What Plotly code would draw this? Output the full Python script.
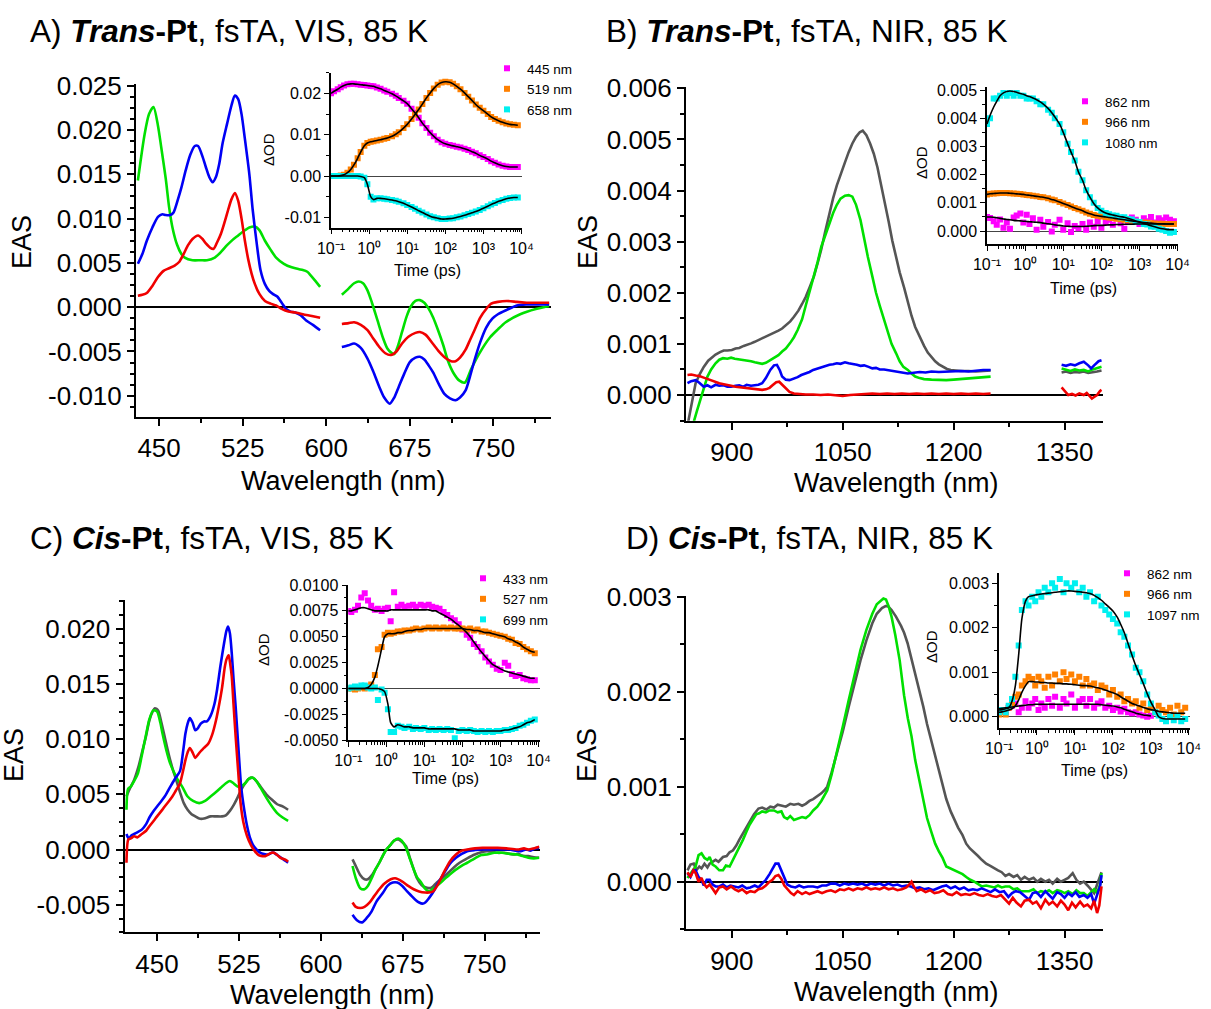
import plotly.graph_objects as go

W, H = 1211, 1009
FONT = "Liberation Sans, Arial, sans-serif"
GREEN, BLUE, RED, GRAY = "#00e000", "#0000f5", "#f00000", "#555555"
MAG, ORA, CYA = "#ff00ff", "#ff8000", "#00f0f0"

# ---------------- Panel A: Trans-Pt VIS EAS ----------------
A_green_wl = [431, 437, 441, 445, 449, 452, 456, 459, 462, 466, 470, 473, 480, 487, 493, 500, 506, 511, 516, 521, 526, 531, 536, 540, 545, 550, 555, 562, 569, 575, 579, 583, 586, 590, 594.5, None,
              614, 620, 625, 629, 633, 637, 641, 646, 651, 655, 658, 661, 664, 668, 672, 676, 680, 684, 688, 692, 696, 700, 705, 709, 714, 719.5, 724.5, 730, 737, 747, 754, 761, 774, 788, 795, 800]
A_green = [0.0143, 0.0195, 0.0218, 0.0226, 0.0205, 0.018, 0.0145, 0.0113, 0.0090, 0.0071, 0.0060, 0.0056, 0.0053, 0.0053, 0.0053, 0.0056, 0.0063, 0.0070, 0.0076, 0.0081, 0.0086, 0.0090, 0.0091, 0.0087, 0.0075, 0.0065, 0.0056, 0.0049, 0.0045, 0.0043, 0.0042, 0.0040, 0.0036, 0.0030, 0.0023, None,
           0.0014, 0.0021, 0.0027, 0.0029, 0.0027, 0.0019, 0.0005, -0.0015, -0.0035, -0.0047, -0.0051, -0.0053, -0.0045, -0.0028, -0.0011, 0.0001, 0.0007, 0.0008, 0.0005, -0.0002, -0.0012, -0.0025, -0.0043, -0.0060, -0.0074, -0.0083, -0.0085, -0.0070, -0.0053, -0.0034, -0.0025, -0.0017, -0.0008, -0.0002, 0.0000, 0.0001]
A_blue_wl = [431, 435, 439, 444, 449, 453, 456, 460, 463, 467, 470, 474, 478, 482, 485, 489, 492, 495, 498, 501, 504, 507, 511, 515, 518, 521, 524, 527, 531, 534, 538, 541, 545, 549, 552, 556, 560, 564, 568, 572, 577, 582, 588, 594.5, None,
             614, 620, 625, 631, 637, 642, 647.6, 652, 657, 661, 665, 670, 675, 680, 684, 688, 692, 696, 701, 706, 711, 716, 720, 725, 729, 733, 738, 743.5, 749, 754, 762, 771, 780, 790, 800]
A_blue = [0.0049, 0.0060, 0.0075, 0.0090, 0.0102, 0.0105, 0.0104, 0.0104, 0.0107, 0.0122, 0.0135, 0.0155, 0.0172, 0.0182, 0.0182, 0.0170, 0.0158, 0.0147, 0.0141, 0.0147, 0.0162, 0.0185, 0.0207, 0.0228, 0.0239, 0.0235, 0.0218, 0.0190, 0.0150, 0.0110, 0.0068, 0.0042, 0.0026, 0.0018, 0.0015, 0.0012, 0.0005, -0.0002, -0.0005, -0.0006, -0.0009, -0.0015, -0.0020, -0.0026, None,
          -0.0045, -0.0043, -0.0041, -0.0046, -0.0058, -0.0072, -0.0090, -0.0102, -0.0109, -0.0102, -0.0090, -0.0075, -0.0062, -0.0057, -0.0056, -0.0059, -0.0066, -0.0074, -0.0087, -0.0098, -0.0103, -0.0105, -0.0102, -0.0094, -0.0078, -0.0060, -0.0040, -0.0023, -0.0013, -0.0008, -0.0003, 0.0002, 0.0003, 0.0003, 0.0003]
A_red_wl = [431, 435, 439, 444, 449, 454, 459, 464, 468, 472, 476, 480, 485, 489, 492, 496, 499, 502, 505.5, 509, 512, 515, 518, 521, 524, 527, 530, 533, 536, 540, 545, 550, 555, 560, 566, 572, 579, 587, 594.5, None,
            614, 620, 625, 631, 637, 642, 647.6, 653, 658, 663, 668, 674, 680, 684, 689, 695.5, 701, 707.5, 712, 716, 720, 725, 729, 733, 738, 743.5, 748, 754, 762, 771, 780, 790, 800]
A_red = [0.0013, 0.0014, 0.0016, 0.0024, 0.0034, 0.0041, 0.0044, 0.0047, 0.0051, 0.0060, 0.0070, 0.0077, 0.0081, 0.0077, 0.0072, 0.0067, 0.0066, 0.0073, 0.0083, 0.0097, 0.0110, 0.0122, 0.0129, 0.0120, 0.0100, 0.0075, 0.0054, 0.0038, 0.0026, 0.0015, 0.0007, 0.0004, 0.0002, -0.0002, -0.0005, -0.0006, -0.0008, -0.0010, -0.0012, None,
         -0.0019, -0.0018, -0.0017, -0.0020, -0.0026, -0.0035, -0.0045, -0.0052, -0.0054, -0.0050, -0.0041, -0.0033, -0.0029, -0.0028, -0.0031, -0.0041, -0.0050, -0.0058, -0.0061, -0.0061, -0.0057, -0.0048, -0.0037, -0.0026, -0.0012, -0.0002, 0.0004, 0.0006, 0.0007, 0.0006, 0.0005, 0.0005, 0.0005]

# ---------------- Panel B: Trans-Pt NIR EAS ----------------
B_gray_wl = [840, 845, 851, 857, 862, 868, 873, 878, 884, 889, 894, 900, 905, 910, 916, 921, 926, 931, 937, 942, 947, 952, 958, 963, 968, 974, 979, 984, 990, 995, 1000, 1005, 1011, 1016, 1021, 1026, 1032, 1037, 1042, 1047, 1053, 1058, 1063, 1068, 1073, 1077, 1082, 1087, 1092, 1097, 1102, 1106, 1112, 1117, 1122, 1127, 1133, 1138, 1143, 1148, 1154, 1160, 1165, 1170, 1175, 1180, 1186, 1191, 1196, 1201, 1210, 1220, 1230, 1240, 1250, None,
             1346, 1352, 1358, 1364, 1370, 1376, 1382, 1388, 1394, 1400]
B_gray = [-0.0006, -0.0002, 0.00023, 0.00042, 0.00055, 0.00067, 0.00074, 0.00079, 0.00084, 0.00087, 0.00087, 0.00088, 0.00091, 0.00092, 0.00096, 0.00098, 0.00101, 0.00104, 0.00108, 0.00111, 0.00114, 0.00118, 0.00122, 0.00126, 0.0013, 0.00137, 0.00144, 0.00153, 0.00165, 0.00178, 0.00192, 0.0021, 0.00232, 0.00258, 0.00285, 0.00318, 0.00356, 0.00385, 0.0041, 0.00432, 0.00455, 0.00475, 0.00492, 0.00505, 0.00514, 0.00517, 0.00508, 0.00492, 0.00472, 0.00445, 0.00412, 0.0038, 0.0034, 0.00302, 0.0027, 0.0024, 0.0021, 0.0018, 0.00155, 0.00133, 0.00113, 0.00096, 0.00083, 0.00074, 0.00066, 0.0006, 0.00055, 0.00051, 0.00049, 0.00048, 0.00047, 0.00047, 0.00046, 0.00047, 0.00048, None,
          0.00044, 0.00046, 0.00043, 0.00045, 0.00044, 0.00046, 0.00043, 0.00044, 0.00046, 0.00048]
B_green_wl = [845, 849, 853, 857, 862, 867, 872, 878, 883, 888, 894, 899, 904, 910, 915, 920, 926, 931, 936, 941, 946, 952, 957, 963, 968, 973, 979, 984, 989, 995, 1000, 1005, 1011, 1016, 1021, 1026, 1032, 1037, 1042, 1047, 1053, 1058, 1063, 1068, 1074, 1079, 1084, 1090, 1095, 1100, 1106, 1111, 1116, 1122, 1127, 1132, 1138, 1143, 1148, 1154, 1160, 1170, 1180, 1190, 1200, 1210, 1220, 1230, 1240, 1250, None,
              1346, 1352, 1358, 1364, 1370, 1376, 1382, 1388, 1394, 1400]
B_green = [-0.0008, -0.0005, -0.0003, -0.0001, 0.00015, 0.00036, 0.0005, 0.00062, 0.00069, 0.00072, 0.00071, 0.00073, 0.00071, 0.0007, 0.00069, 0.00068, 0.00066, 0.00064, 0.00062, 0.00061, 0.00063, 0.00068, 0.00072, 0.00078, 0.00085, 0.00091, 0.00102, 0.00113, 0.00127, 0.00148, 0.00175, 0.002, 0.0023, 0.0026, 0.0029, 0.00312, 0.00338, 0.00356, 0.00372, 0.00384, 0.0039, 0.00391, 0.00388, 0.00372, 0.00342, 0.00305, 0.0027, 0.00232, 0.002, 0.00175, 0.00147, 0.00122, 0.001, 0.00082, 0.00066, 0.00055, 0.00049, 0.00042, 0.00036, 0.00033, 0.00031, 0.0003, 0.00029, 0.00029, 0.0003, 0.00031, 0.00032, 0.00033, 0.00035, 0.00036, None,
           0.00052, 0.0005, 0.00047, 0.0005, 0.00048, 0.00049, 0.00046, 0.0005, 0.00052, 0.00055]
B_blue_wl = [840, 845, 851, 856, 862, 867, 872, 878, 883, 889, 894, 899, 905, 910, 915, 920, 926, 931, 936, 941, 946, 952, 957, 961, 965, 968, 973, 978, 984, 989, 994, 1000, 1005, 1010, 1016, 1021, 1026, 1032, 1037, 1042, 1047, 1053, 1058, 1063, 1069, 1074, 1079, 1085, 1090, 1095, 1100, 1106, 1111, 1117, 1122, 1130, 1138, 1146, 1154, 1162, 1170, 1180, 1190, 1200, 1210, 1220, 1230, 1240, 1250, None,
             1346, 1352, 1358, 1364, 1370, 1376, 1382, 1386, 1390, 1396, 1400]
B_blue = [0.00023, 0.00027, 0.00029, 0.00024, 0.00016, 0.00019, 0.00015, 0.0002, 0.00018, 0.00019, 0.00016, 0.00016, 0.00018, 0.00019, 0.00016, 0.0002, 0.00018, 0.00019, 0.0002, 0.00023, 0.00033, 0.00049, 0.00058, 0.00059, 0.00048, 0.00036, 0.0003, 0.00029, 0.00032, 0.00035, 0.00039, 0.00042, 0.00045, 0.00049, 0.00052, 0.00054, 0.00056, 0.00059, 0.0006, 0.00062, 0.00061, 0.00064, 0.00062, 0.00061, 0.00059, 0.00057, 0.00058, 0.00055, 0.00052, 0.00053, 0.0005, 0.0005, 0.00049, 0.00047, 0.00046, 0.00044, 0.00042, 0.00044, 0.00045, 0.00044, 0.00046, 0.00045, 0.00046, 0.00046, 0.00047, 0.00046, 0.00048, 0.00049, 0.00049, None,
          0.00059, 0.00057, 0.0006, 0.00058, 0.00062, 0.00065, 0.00058, 0.00052, 0.00058, 0.00066, 0.00068]
B_red_wl = [840, 845, 851, 856, 862, 867, 872, 878, 883, 889, 894, 899, 905, 910, 915, 920, 926, 931, 936, 941, 946, 951, 955, 960, 964, 968, 973, 978, 984, 990, 1000, 1010, 1020, 1030, 1040, 1050, 1060, 1070, 1080, 1090, 1100, 1110, 1120, 1130, 1140, 1150, 1160, 1170, 1180, 1190, 1200, 1210, 1220, 1230, 1240, 1250, None,
            1346, 1350, 1355, 1360, 1365, 1370, 1376, 1380, 1384, 1387, 1390, 1394, 1398, 1400]
B_red = [0.00039, 0.0004, 0.00038, 0.00037, 0.00034, 0.00031, 0.00029, 0.00025, 0.00023, 0.00021, 0.0002, 0.00018, 0.00016, 0.00015, 0.00014, 0.00013, 0.00012, 0.00011, 0.0001, 0.0001, 0.00011, 0.00014, 0.00019, 0.00025, 0.00026, 0.0002, 0.00012, 0.00006, 0.00003, 0.00002, 0.00001, 0.00001, 0.0, 0.00001, -0.00001, -0.00002, 0.0, 0.00001, 0.00002, 0.00003, 0.00002, 0.00003, 0.00002, 0.00003, 0.00002, 0.00003, 0.00002, 0.00003, 0.00002, 0.00003, 0.00002, 0.00003, 0.00002, 0.00003, 0.00002, 0.00003, None,
         0.00015, 0.00008, 0.0, 0.00002, -0.00001, 0.00003, 0.0, 0.00004, -0.00002, -0.00007, -0.00004, 0.0, 0.00008, 0.0001]

# ---------------- Panel C: Cis-Pt VIS EAS ----------------
C_gray_wl = [422, 425, 429, 433, 436, 440, 443, 446, 448, 451, 453.5, 457, 460.5, 464, 467.5, 471, 474.5, 478, 481.6, 485, 488.6, 493, 499, 504, 509.6, 513, 516.7, 520, 523.7, 527, 530.7, 534, 537.7, 541, 544.7, 550, 555.3, 560, 565, 570, None,
             629, 632, 636, 640, 643, 647, 650, 653.5, 657, 660, 664, 667, 671, 674, 678, 681, 685, 688, 692, 695, 699, 702, 706, 711, 716.7, 722, 727, 734, 741, 747, 752, 757, 762, 768, 776, 781, 784, 787, 790, 795, 800]
C_gray = [0.0048, 0.0055, 0.0063, 0.0075, 0.0087, 0.0103, 0.0117, 0.0125, 0.0128, 0.0126, 0.0117, 0.0102, 0.0087, 0.0074, 0.0063, 0.0052, 0.0042, 0.0036, 0.0032, 0.0030, 0.0028, 0.0028, 0.0030, 0.0030, 0.0030, 0.0031, 0.0035, 0.0040, 0.0047, 0.0054, 0.0060, 0.0064, 0.0065, 0.0062, 0.0057, 0.0050, 0.0045, 0.0041, 0.0039, 0.0036, None,
          -0.0009, -0.0015, -0.0023, -0.0027, -0.0027, -0.0023, -0.0018, -0.0012, -0.0005, 0.0000, 0.00045, 0.0008, 0.0009, 0.0007, 0.0003, -0.0006, -0.0018, -0.0026, -0.0032, -0.0034, -0.0035, -0.0034, -0.0030, -0.0026, -0.0021, -0.0016, -0.0012, -0.0008, -0.00045, -0.00025, -0.00015, -0.0002, -0.0003, -0.0003, -0.00045, -0.0004, -0.00055, -0.0006, -0.0006, -0.0007, -0.00075]
C_green_wl = [422, 423.5, 426, 429, 432.5, 436, 439.5, 443, 446.5, 450, 453, 455, 458.5, 462, 465.5, 469, 473, 478, 483, 488.6, 494, 499, 504, 509.6, 513, 516.7, 520, 523.7, 527, 530.7, 534, 537.7, 541, 544.7, 550, 555.3, 560, 565, 570, None,
              629, 632, 636, 640, 643, 647, 650, 653.5, 657, 660, 664, 667, 671, 674, 678, 681, 685, 688, 692, 695, 699, 702, 706, 713, 720, 727, 734, 741, 747, 752, 759, 766, 773, 780, 785, 790, 795, 800]
C_green = [0.0036, 0.0055, 0.0057, 0.0062, 0.0069, 0.0085, 0.0102, 0.0118, 0.0126, 0.0125, 0.0115, 0.0105, 0.0090, 0.0078, 0.0070, 0.0063, 0.0057, 0.0048, 0.0044, 0.0042, 0.0044, 0.0048, 0.0052, 0.0057, 0.0060, 0.0062, 0.0060, 0.0057, 0.0057, 0.0060, 0.0064, 0.0065, 0.0062, 0.0056, 0.0047, 0.0039, 0.0033, 0.0029, 0.0026, None,
           -0.0015, -0.0026, -0.0035, -0.0036, -0.0033, -0.0025, -0.0018, -0.0012, -0.0005, 0.0000, 0.00045, 0.0008, 0.0010, 0.0008, 0.00015, -0.0007, -0.0018, -0.0025, -0.0030, -0.0035, -0.0038, -0.0036, -0.0033, -0.0027, -0.0021, -0.0016, -0.0012, -0.0008, -0.0005, -0.00045, -0.0003, -0.0003, -0.0004, -0.00045, -0.0006, -0.00075, -0.0008, -0.00075]
C_blue_wl = [422, 424, 427, 431, 436, 440, 443, 447, 450, 454, 457, 461, 464, 467, 471, 474, 476, 478, 480, 482.5, 485, 487.5, 490, 493, 495.6, 499, 502.6, 505, 508, 511.4, 513.5, 515, 516.7, 518.4, 520, 522, 524.5, 527, 530, 532.5, 535, 537.7, 541, 544.7, 548, 551.8, 555, 557, 560, 563, 567, 570, None,
             629, 633, 637.7, 642, 646.5, 651, 657, 661, 665.8, 670, 674.6, 679, 683, 687, 690, 693, 695.6, 699, 702.6, 707, 713, 718, 723.7, 729, 734, 741, 748, 755, 762, 768, 772.8, 778, 783, 788, 792, 796, 800]
C_blue = [0.0014, 0.0010, 0.0013, 0.0015, 0.0018, 0.0023, 0.0029, 0.0035, 0.0039, 0.0044, 0.0048, 0.0055, 0.0060, 0.0065, 0.0071, 0.0090, 0.0105, 0.0114, 0.0119, 0.0115, 0.0108, 0.0110, 0.0114, 0.0116, 0.0116, 0.0121, 0.0132, 0.0145, 0.0166, 0.0187, 0.0198, 0.0202, 0.0196, 0.0178, 0.0155, 0.0129, 0.0092, 0.0057, 0.0035, 0.0021, 0.0011, 0.00045, 0.0000, -0.0003, -0.0004, -0.00045, -0.0003, -0.0003, -0.0005, -0.0007, -0.0010, -0.0012, None,
          -0.0059, -0.0064, -0.0066, -0.0062, -0.0056, -0.0047, -0.0039, -0.0033, -0.0030, -0.0030, -0.0033, -0.0038, -0.0042, -0.0046, -0.0048, -0.0049, -0.0048, -0.0044, -0.0039, -0.0031, -0.0021, -0.0013, -0.00075, -0.0004, -0.00015, -0.00005, 0.0, 0.0, 0.0, 0.0, 0.0, -0.0001, -0.00015, 0.0, -0.0001, 0.0001, 0.00015]
C_red_wl = [422, 423.7, 426, 429, 432, 436, 440, 443, 447, 450, 454, 457, 461, 464, 467, 471, 474, 476, 478, 480, 482.5, 485, 487.5, 490, 493, 497, 500.5, 504, 507, 509.6, 512, 513.5, 515.6, 517, 518.4, 520, 522, 524.5, 526.5, 529, 532.5, 536, 539.5, 543, 546.5, 549, 551.8, 555, 557, 560, 563, 567, 570, None,
            629, 632, 636, 640, 644.7, 649, 653.5, 658, 664, 668, 674.6, 680, 685, 690, 695.6, 699, 702.6, 707, 713, 718, 723.7, 729, 734, 741, 748, 755, 762, 770, 780, 786, 790, 795, 800]
C_red = [-0.0012, 0.0009, 0.0010, 0.0012, 0.0011, 0.0014, 0.0017, 0.0021, 0.0026, 0.0030, 0.0035, 0.0039, 0.0044, 0.0048, 0.0053, 0.0060, 0.0072, 0.0081, 0.0088, 0.0092, 0.0088, 0.0083, 0.0086, 0.0089, 0.0092, 0.0096, 0.0104, 0.0117, 0.0132, 0.0147, 0.0165, 0.0172, 0.0176, 0.0168, 0.0157, 0.0132, 0.0102, 0.0068, 0.0042, 0.0025, 0.0012, 0.0004, -0.00015, -0.0005, -0.0006, -0.0006, -0.00045, -0.0003, -0.0003, -0.0005, -0.00075, -0.0009, -0.0011, None,
         -0.0048, -0.0052, -0.0053, -0.0052, -0.0048, -0.0042, -0.0036, -0.0031, -0.0027, -0.0026, -0.0029, -0.0033, -0.0036, -0.0038, -0.0039, -0.0039, -0.0038, -0.0032, -0.0020, -0.0011, -0.00045, -0.0001, 0.0, 0.0001, 0.00015, 0.00015, 0.00015, 0.0001, 0.0, 0.0001, 0.0, 0.0001, 0.00024]

# ---------------- Panel D: Cis-Pt NIR EAS ----------------
D_gray_wl = [840, 844, 848.5, 852, 856, 859, 863, 867, 870, 874, 878, 882, 888, 893, 897, 901.6, 906, 910, 915, 920, 925.5, 930, 936, 941, 946.7, 952, 957, 962, 968, 973, 979, 984, 990, 995, 1000, 1005, 1010, 1015.6, 1021, 1026, 1029, 1035, 1042, 1050, 1058, 1066, 1074, 1082, 1090, 1096, 1103, 1108, 1111, 1116, 1122, 1129, 1133, 1137.7, 1143, 1148, 1153.6, 1159, 1164, 1169.5, 1175, 1180, 1185, 1190, 1196, 1201, 1206, 1212, 1217, 1222, 1228, 1233, 1238, 1244, 1249, 1255, 1260, 1265, 1270, 1275, 1281, 1286, 1291, 1296, 1302, 1308, 1313, 1318, 1324, 1329, 1334, 1340, 1345, 1350, 1355, 1361, 1366, 1371, 1376, 1381, 1386, 1390, 1394, 1398, 1400]
D_gray = [0.00012, 0.00018, 0.00019, 0.00012, 0.00016, 0.00014, 0.00019, 0.00015, 0.00019, 0.00021, 0.00023, 0.00021, 0.00026, 0.00027, 0.00031, 0.00033, 0.00038, 0.00044, 0.00051, 0.00057, 0.00065, 0.00071, 0.00077, 0.00078, 0.00076, 0.00079, 0.00078, 0.00081, 0.0008, 0.00079, 0.00082, 0.00081, 0.00082, 0.0008, 0.00082, 0.00085, 0.00087, 0.0009, 0.00093, 0.00097, 0.001, 0.00115, 0.00135, 0.00158, 0.00184, 0.00209, 0.00233, 0.00254, 0.00272, 0.00282, 0.00288, 0.0029, 0.0029, 0.00286, 0.00279, 0.00269, 0.00262, 0.00251, 0.00235, 0.00218, 0.00202, 0.00184, 0.00166, 0.00149, 0.00131, 0.00115, 0.001, 0.00087, 0.00074, 0.00065, 0.00057, 0.00049, 0.0004, 0.00035, 0.00031, 0.00027, 0.00023, 0.00019, 0.00017, 0.00014, 0.00012, 0.0001, 0.00006, 0.00008, 0.00005, 0.00007, 0.00002, 0.00005, 0.00002, 0.00004, 0.0, 0.00003, 0.0, 0.00002, -0.00002, 0.00003, 0.0, 0.00002, 0.00004, 0.00009, 0.00002, -0.00002, 0.0, -0.00004, -0.00008, -0.00012, -0.00003, 0.00005, 0.0001]
D_green_wl = [840, 844, 848, 851, 855, 859, 863, 867, 870, 874, 878, 883, 888, 892, 897, 901.6, 906, 910, 915, 920, 924, 928, 933, 937, 941, 946, 951, 957, 962, 967, 970.6, 975, 979, 984, 990, 995, 1000, 1005, 1010, 1015.6, 1021, 1026, 1029, 1035, 1042, 1050, 1058, 1066, 1074, 1082, 1090, 1096, 1100, 1105, 1108.5, 1112, 1116, 1121, 1127, 1133, 1138, 1143, 1148, 1153, 1159, 1164, 1170, 1175, 1180, 1185, 1190, 1196, 1201, 1206, 1212, 1217, 1222.5, 1228, 1233, 1238, 1244, 1250, 1255, 1260, 1265, 1270, 1275.5, 1281, 1286, 1291, 1296, 1302, 1308, 1313, 1318, 1324, 1329, 1334, 1340, 1345, 1350, 1355, 1361, 1366, 1371, 1376, 1381, 1386, 1390, 1394, 1398, 1400]
D_green = [0.00004, 0.00008, 0.00012, 0.00016, 0.00028, 0.0003, 0.00025, 0.00023, 0.00026, 0.00018, 0.00016, 0.00012, 0.00012, 0.00017, 0.00016, 0.00023, 0.0003, 0.00036, 0.00044, 0.00053, 0.0006, 0.00065, 0.00071, 0.00072, 0.00074, 0.00073, 0.00075, 0.00075, 0.00073, 0.00074, 0.00068, 0.00066, 0.00069, 0.00065, 0.00067, 0.00068, 0.00067, 0.0007, 0.00075, 0.00079, 0.00085, 0.00092, 0.00096, 0.00113, 0.00135, 0.00163, 0.00191, 0.00218, 0.00244, 0.00265, 0.00282, 0.00292, 0.00295, 0.00298, 0.00297, 0.0029, 0.00279, 0.0026, 0.00233, 0.00196, 0.00172, 0.00153, 0.00128, 0.00108, 0.00086, 0.00067, 0.00052, 0.0004, 0.00032, 0.00025, 0.00016, 0.00014, 0.00012, 0.0001, 0.00008, 0.00005, 0.00002, 0.0, -0.00003, -0.00005, -0.00004, -0.00005, -0.00006, -0.00004, -0.00006, -0.00005, -0.00005, -0.00008, -0.00007, -0.0001, -0.0001, -0.0001, -0.00008, -0.00012, -0.0001, -0.00011, -0.00009, -0.00012, -0.00009, -0.0001, -0.00012, -0.0001, -0.00013, -0.00009, -0.00012, -0.00012, -0.00015, -0.00011, -0.00008, -0.00012, -0.00003, 0.00009]
D_blue_wl = [840, 844, 848, 851, 855, 859, 862, 866, 870, 874, 878, 883, 888, 893, 898, 904, 909, 914, 920, 925, 931, 936, 941, 946, 951, 955, 959, 963, 967, 970.6, 975, 980, 986, 991, 997, 1003, 1010, 1016, 1022, 1028, 1034, 1040, 1046, 1052, 1058, 1064, 1070, 1076, 1082, 1088, 1094, 1100, 1106, 1112, 1118, 1124, 1130, 1136, 1142, 1148, 1154, 1160, 1166, 1172, 1178, 1184, 1190, 1196, 1202, 1208, 1214, 1220, 1226, 1232, 1238, 1244, 1250, 1256, 1262, 1268, 1274, 1279, 1284, 1290, 1296, 1302, 1307, 1312, 1318, 1324, 1329, 1334, 1340, 1345, 1350, 1355, 1360, 1365, 1370, 1376, 1381, 1386, 1390, 1394, 1398, 1400]
D_blue = [0.00009, 0.00005, 0.00012, 0.00012, 0.00005, 0.00002, -0.00004, 0.00002, 0.00002, -0.00003, -0.00005, -0.00005, -0.00003, -0.00006, -0.00004, -0.00005, -0.00006, -0.00004, -0.00007, -0.00006, -0.00004, -0.00006, -0.00002, 0.00002, 0.00008, 0.00014, 0.00019, 0.00019, 0.00012, 0.00005, -0.00003, -0.00005, -0.00006, -0.00004, -0.00006, -0.00005, -0.00005, -0.00006, -0.00004, -0.00004, -0.00002, -0.00002, -0.00004, -0.00002, -0.00003, -0.00002, -0.00003, -0.00002, -0.00004, -0.00002, -0.00003, -0.00002, -0.00004, -0.00002, -0.00004, -0.00003, -0.00005, -0.00004, -0.00005, -0.00007, -0.00006, -0.00008, -0.00007, -0.00009, -0.00007, -0.00005, -0.00004, -0.00007, -0.00005, -0.00008, -0.00006, -0.00009, -0.00008, -0.00009, -0.00007, -0.00009, -0.00011, -0.00008, -0.00011, -0.0001, -0.00016, -0.00012, -0.0001, -0.00011, -0.00015, -0.00019, -0.00012, -0.00011, -0.00016, -0.0001, -0.00014, -0.00018, -0.00011, -0.00013, -0.00017, -0.00012, -0.00015, -0.00011, -0.00016, -0.00014, -0.00017, -0.00013, -0.00023, -0.00015, -0.00005, 0.00007]
D_red_wl = [840, 844, 848, 851, 855, 859, 862, 866, 870, 874, 878, 883, 888, 893, 899, 904, 909, 914, 920, 925, 931, 936, 941, 946, 951, 955, 959, 963, 967, 971, 975, 980, 984, 989, 995, 1000, 1005, 1010, 1016, 1022, 1028, 1034, 1040, 1046, 1052, 1058, 1064, 1070, 1076, 1082, 1088, 1094, 1100, 1106, 1112, 1118, 1124, 1130, 1136, 1140, 1143, 1146, 1150, 1156, 1162, 1168, 1174, 1180, 1186, 1192, 1198, 1204, 1210, 1216, 1222, 1228, 1234, 1240, 1246, 1252, 1258, 1264, 1270, 1275, 1280, 1285, 1291, 1296, 1302, 1307, 1312, 1318, 1324, 1329, 1334, 1340, 1345, 1350, 1355, 1360, 1365, 1371, 1376, 1381, 1386, 1390, 1394, 1397, 1400]
D_red = [0.0001, 0.00005, 0.00012, 0.00009, 0.0, 0.00004, -0.00002, -0.00006, -0.00003, -0.00008, -0.00012, -0.00006, -0.00005, -0.00008, -0.00005, -0.00008, -0.0001, -0.00008, -0.00012, -0.0001, -0.00011, -0.00008, -0.00007, -0.00004, 0.0, 0.00002, 0.00006, 0.00007, 0.00003, -0.00004, -0.00008, -0.00012, -0.00014, -0.0001, -0.00013, -0.00011, -0.00013, -0.00012, -0.0001, -0.00012, -0.0001, -0.00009, -0.00011, -0.00008, -0.00009, -0.00007, -0.00009, -0.00007, -0.00008, -0.00006, -0.00008, -0.00007, -0.00008, -0.00006, -0.00008, -0.00007, -0.00009, -0.00008, -0.00006, -0.00003, 0.0, -0.00005, -0.0001, -0.00008, -0.00011, -0.00009, -0.00012, -0.00011, -0.00009, -0.00013, -0.00014, -0.00011, -0.00014, -0.00013, -0.00014, -0.00012, -0.00014, -0.00015, -0.00013, -0.00015, -0.00016, -0.00014, -0.00019, -0.00023, -0.00017, -0.00022, -0.00026, -0.0002, -0.00019, -0.00023, -0.00021, -0.00028, -0.00019, -0.00024, -0.00021, -0.00026, -0.0002, -0.00024, -0.0003, -0.00022, -0.00027, -0.00021, -0.00026, -0.00024, -0.00028, -0.0002, -0.00033, -0.00025, -0.00005]

# ---------------- Kinetics (insets) ----------------
TIME = [0.1, 0.12, 0.15, 0.18, 0.22, 0.27, 0.33, 0.4, 0.5, 0.6, 0.75, 0.9, 1.1, 1.3, 1.6, 2, 2.5, 3, 4, 5, 6, 8, 10, 13, 16, 20, 25, 32, 40, 50, 63, 80, 100, 130, 160, 200, 250, 320, 400, 500, 630, 800, 1000, 1300, 1600, 2000, 2500, 3200, 4000, 5000, 6300, 8000]

kA_445 = [0.0200, 0.0205, 0.0210, 0.0215, 0.0219, 0.0222, 0.0223, 0.0223, 0.0222, 0.0221, 0.0220, 0.0219, 0.0218, 0.0217, 0.0214, 0.0211, 0.0207, 0.0204, 0.0199, 0.0194, 0.0189, 0.0182, 0.0175, 0.0163, 0.0153, 0.0141, 0.0128, 0.0116, 0.0105, 0.0096, 0.0088, 0.0082, 0.0078, 0.0075, 0.0073, 0.0071, 0.0069, 0.0066, 0.0063, 0.0059, 0.0055, 0.0050, 0.0046, 0.0041, 0.0036, 0.0032, 0.0028, 0.0025, 0.0023, 0.0022, 0.0022, 0.0022]
kA_519 = [0.0, 0.0, 0.0, 0.0001, 0.0003, 0.0008, 0.0016, 0.0027, 0.0043, 0.0058, 0.0073, 0.0080, 0.0083, 0.0084, 0.0086, 0.0088, 0.0090, 0.0092, 0.0096, 0.0101, 0.0106, 0.0116, 0.0125, 0.0138, 0.0149, 0.0161, 0.0174, 0.0189, 0.0201, 0.0212, 0.0221, 0.0226, 0.0228, 0.0227, 0.0223, 0.0217, 0.0210, 0.0201, 0.0192, 0.0183, 0.0173, 0.0165, 0.0158, 0.0150, 0.0143, 0.0138, 0.0134, 0.0130, 0.0127, 0.0125, 0.0124, 0.0123]
kA_658 = [0.0, 0.0, 0.0, 0.0, 0.0, 0.0, 0.0, 0.0, 0.0, -0.0001, -0.0004, -0.0020, -0.0050, -0.0057, -0.0054, -0.0054, -0.0055, -0.0056, -0.0058, -0.0060, -0.0062, -0.0066, -0.0070, -0.0075, -0.0079, -0.0084, -0.0088, -0.0093, -0.0097, -0.0100, -0.0102, -0.0104, -0.0104, -0.0103, -0.0102, -0.0100, -0.0098, -0.0095, -0.0092, -0.0089, -0.0086, -0.0082, -0.0078, -0.0073, -0.0069, -0.0065, -0.0061, -0.0058, -0.0055, -0.0053, -0.0052, -0.0052]

kB_862_fit = [0.0005, 0.0005, 0.00049, 0.00047, 0.00045, 0.00043, 0.00041, 0.0004, 0.00038, 0.00037, 0.00036, 0.00035, 0.00034, 0.00033, 0.00032, 0.00031, 0.0003, 0.00028, 0.00026, 0.00024, 0.00022, 0.0002, 0.00018, 0.00017, 0.00016, 0.00016, 0.00016, 0.00016, 0.00017, 0.00018, 0.00019, 0.0002, 0.0002, 0.00021, 0.00022, 0.00022, 0.00023, 0.00023, 0.00024, 0.00024, 0.00024, 0.00025, 0.00025, 0.00025, 0.00025, 0.00025, 0.00025, 0.00025, 0.00025, 0.00025, 0.00025, 0.00025]
kB_862_data = [0.0005, 0.00046, 0.00035, 0.00022, 0.00041, 0.00012, 0.0003, 0.00008, 0.00048, 0.00055, 0.00062, 0.0003, 0.00058, 0.00025, 0.00045, 0.00005, 0.0004, 0.00015, 0.00032, -0.00002, 0.00022, 0.0004, 0.00005, 0.00028, -0.00003, 0.00018, 0.0001, 0.00025, 0.00005, 0.0003, 0.00015, 0.00035, 0.00012, 0.0003, 0.0004, 0.00022, 0.00045, 0.00028, 0.00008, 0.00035, 0.00048, 0.0004, 0.00025, 0.00045, 0.00035, 0.0005, 0.0003, 0.00045, 0.00038, 0.00048, 0.0004, 0.00035]
kB_966 = [0.0013, 0.00132, 0.00133, 0.00134, 0.00135, 0.00135, 0.00135, 0.00134, 0.00133, 0.00132, 0.00131, 0.0013, 0.00128, 0.00127, 0.00125, 0.00123, 0.00121, 0.0012, 0.00116, 0.00112, 0.00109, 0.00103, 0.00098, 0.00092, 0.00087, 0.00082, 0.00077, 0.00072, 0.00066, 0.00061, 0.00057, 0.00054, 0.00052, 0.0005, 0.00048, 0.00046, 0.00044, 0.00042, 0.0004, 0.00038, 0.00036, 0.00034, 0.00032, 0.0003, 0.00029, 0.00028, 0.00027, 0.00026, 0.00026, 0.00025, 0.00025, 0.00025]
kB_1080_fit = [0.0038, 0.0041, 0.0044, 0.0046, 0.0048, 0.0049, 0.00495, 0.00497, 0.00495, 0.00492, 0.00488, 0.00485, 0.0048, 0.00477, 0.00472, 0.00466, 0.00458, 0.0045, 0.00435, 0.0042, 0.00405, 0.0038, 0.0035, 0.0031, 0.0028, 0.0025, 0.0021, 0.0018, 0.00145, 0.0012, 0.00098, 0.00082, 0.00072, 0.00064, 0.0006, 0.00057, 0.00054, 0.00051, 0.00049, 0.00045, 0.00041, 0.00036, 0.00032, 0.00027, 0.00023, 0.00019, 0.00015, 0.00011, 0.00008, 0.00006, 0.00005, 0.00005]
kB_1080_data = [0.0038, 0.0040, 0.0047, 0.0047, 0.0048, 0.0049, 0.0048, 0.0049, 0.0048, 0.0049, 0.0048, 0.0048, 0.0047, 0.0047, 0.0047, 0.0046, 0.0045, 0.0045, 0.0043, 0.0042, 0.0040, 0.0038, 0.0035, 0.0031, 0.0028, 0.0025, 0.0021, 0.0018, 0.00145, 0.0012, 0.001, 0.00082, 0.00072, 0.00064, 0.0006, 0.00055, 0.00054, 0.00049, 0.00049, 0.00043, 0.00041, 0.00034, 0.00032, 0.00025, 0.00023, 0.00016, 0.00015, 0.00008, 0.00005, 0.0, -0.00006, -0.00003]

kC_433_fit = [0.0075, 0.0075, 0.0076, 0.0077, 0.0078, 0.0078, 0.0077, 0.0076, 0.0075, 0.0075, 0.0075, 0.0075, 0.0075, 0.0076, 0.0076, 0.0076, 0.0076, 0.0076, 0.0076, 0.0076, 0.0076, 0.0076, 0.0076, 0.0076, 0.0075, 0.0075, 0.0073, 0.0071, 0.0069, 0.0067, 0.0064, 0.0061, 0.0058, 0.0054, 0.0050, 0.0045, 0.0040, 0.0035, 0.0031, 0.0027, 0.0023, 0.0021, 0.0019, 0.0017, 0.0016, 0.0015, 0.0014, 0.0013, 0.0012, 0.0011, 0.0010, 0.0010]
kC_433_data = [0.0075, 0.0074, 0.0076, 0.0080, 0.0088, 0.0092, 0.0085, 0.0080, 0.0076, 0.0077, 0.0075, 0.0077, 0.0078, 0.0065, 0.0093, 0.0079, 0.0081, 0.0079, 0.0080, 0.0081, 0.0079, 0.0081, 0.0080, 0.0081, 0.0079, 0.0078, 0.0077, 0.0074, 0.0071, 0.0068, 0.0066, 0.0062, 0.0057, 0.0052, 0.0049, 0.0043, 0.0040, 0.0036, 0.0030, 0.0026, 0.0023, 0.0019, 0.0018, 0.0025, 0.0022, 0.0014, 0.0012, 0.0013, 0.0010, 0.0009, 0.0008, 0.0008]
kC_527_fit = [0.0, 0.0, 0.0, 0.0, 0.0, 0.0, 0.0001, 0.0004, 0.0011, 0.0022, 0.0038, 0.0050, 0.0053, 0.0053, 0.0053, 0.0054, 0.0054, 0.0055, 0.0056, 0.0056, 0.0057, 0.0057, 0.0058, 0.0058, 0.0058, 0.0058, 0.0058, 0.0058, 0.0058, 0.0058, 0.0058, 0.0058, 0.0058, 0.0057, 0.0057, 0.0056, 0.0056, 0.0055, 0.0054, 0.0054, 0.0053, 0.0052, 0.0051, 0.0050, 0.0048, 0.0047, 0.0045, 0.0043, 0.0040, 0.0038, 0.0036, 0.0035]
kC_527_data = [0.0, 0.0, -0.0001, 0.0, 0.0001, 0.0, 0.0002, 0.0004, 0.0013, 0.0038, 0.0040, 0.0052, 0.0054, 0.0053, 0.0054, 0.0055, 0.0055, 0.0056, 0.0056, 0.0057, 0.0058, 0.0057, 0.0058, 0.0059, 0.0058, 0.0059, 0.0058, 0.0059, 0.0058, 0.0059, 0.0058, 0.0058, 0.0058, 0.0057, 0.0058, 0.0056, 0.0057, 0.0055, 0.0055, 0.0054, 0.0053, 0.0052, 0.0051, 0.0050, 0.0048, 0.0047, 0.0044, 0.0043, 0.0040, 0.0038, 0.0036, 0.0034]
kC_699_fit = [0.0, 0.0, 0.0, 0.0, 0.0, 0.0, 0.0, 0.0, 0.0, 0.0, -0.0001, -0.0003, -0.0015, -0.0033, -0.0037, -0.0035, -0.0036, -0.0037, -0.0037, -0.0038, -0.0038, -0.0038, -0.0038, -0.0039, -0.0039, -0.0039, -0.0039, -0.0039, -0.0039, -0.0039, -0.0039, -0.0040, -0.0040, -0.0040, -0.0040, -0.0041, -0.0041, -0.0041, -0.0041, -0.0041, -0.0041, -0.0041, -0.0041, -0.0040, -0.0040, -0.0039, -0.0038, -0.0037, -0.0035, -0.0033, -0.0032, -0.0030]
kC_699_data = [0.0, 0.0001, 0.0002, 0.0001, 0.0003, 0.0003, 0.0001, 0.0, 0.0001, -0.0011, -0.0001, -0.0004, -0.0020, -0.0042, -0.0042, -0.0036, -0.0037, -0.0038, -0.0037, -0.0039, -0.0038, -0.0039, -0.0038, -0.0040, -0.0039, -0.0040, -0.0039, -0.0040, -0.0039, -0.0040, -0.0048, -0.0041, -0.0040, -0.0041, -0.0040, -0.0041, -0.0042, -0.0041, -0.0042, -0.0041, -0.0042, -0.0041, -0.0041, -0.0040, -0.0040, -0.0039, -0.0038, -0.0036, -0.0035, -0.0033, -0.0031, -0.0030]

kD_862_fit = [0.00018, 0.00019, 0.0002, 0.00021, 0.00022, 0.00023, 0.00024, 0.00025, 0.00026, 0.00027, 0.00027, 0.00028, 0.00028, 0.00028, 0.00028, 0.00028, 0.00028, 0.00028, 0.00028, 0.00028, 0.00028, 0.00028, 0.00028, 0.00028, 0.00028, 0.00028, 0.00028, 0.00028, 0.00028, 0.00027, 0.00026, 0.00025, 0.00024, 0.00022, 0.0002, 0.00017, 0.00014, 0.00011, 0.00008, 0.00006, 0.00004, 0.00003, 0.00002, None, None, None, None, None, None, None, None, None]
kD_862_data = [0.0001, 0.00015, 0.0001, 0.0002, 0.00025, 0.0003, 0.0001, 0.0002, 0.00035, 0.0002, 0.0003, 0.0004, 0.00015, 0.0003, 0.0002, 0.0004, 0.00025, 0.00045, 0.0002, 0.0004, 0.0003, 0.0005, 0.0002, 0.00035, 0.0004, 0.00025, 0.0004, 0.0002, 0.0003, 0.00035, 0.0002, 0.00025, 0.00015, 0.0002, 0.00012, 0.00018, 0.0001, 0.00008, 0.0001, 0.00005, 0.00003, 0.0, 0.00002, None, None, None, None, None, None, None, None, None]
kD_966_fit = [0.0001, 0.00011, 0.00013, 0.00015, 0.00018, 0.00025, 0.00038, 0.00055, 0.0007, 0.00079, 0.00079, 0.00078, 0.00078, 0.00077, 0.00077, 0.00076, 0.00076, 0.00075, 0.00075, 0.00074, 0.00074, 0.00073, 0.00072, 0.00071, 0.0007, 0.0007, 0.00069, 0.00067, 0.00065, 0.00063, 0.0006, 0.00057, 0.00054, 0.0005, 0.00045, 0.0004, 0.00035, 0.0003, 0.00027, 0.00024, 0.00021, 0.00018, 0.00016, 0.00014, 0.00012, 0.00011, 0.0001, 0.00009, 0.00008, 0.00008, 0.00008, 0.00008]
kD_966_data = [0.00005, 0.0001, 0.00005, 0.0002, 0.0003, 0.00045, 0.0005, 0.0007, 0.0008, 0.0009, 0.00085, 0.0007, 0.0009, 0.0008, 0.00065, 0.0009, 0.0007, 0.00095, 0.0008, 0.001, 0.00085, 0.00095, 0.0008, 0.0009, 0.0007, 0.00085, 0.0007, 0.00075, 0.0006, 0.0007, 0.00065, 0.0005, 0.0006, 0.00045, 0.0005, 0.00035, 0.0004, 0.0003, 0.00035, 0.0002, 0.0003, 0.00015, 0.0002, 0.0001, 0.00025, 0.00015, 0.0001, 0.0002, 0.00005, 0.00025, 0.0001, 0.0002]
kD_1097_fit = [0.00015, 0.00016, 0.00018, 0.0002, 0.00035, 0.0007, 0.0014, 0.0022, 0.0026, 0.0027, 0.00272, 0.00274, 0.00275, 0.00276, 0.00277, 0.00278, 0.00279, 0.0028, 0.00281, 0.00282, 0.00283, 0.00283, 0.00282, 0.00281, 0.0028, 0.00279, 0.00277, 0.00273, 0.00268, 0.00262, 0.00254, 0.00246, 0.00238, 0.00224, 0.00208, 0.00189, 0.00165, 0.00138, 0.00115, 0.00095, 0.00075, 0.00052, 0.00033, 0.00015, 0.0, -0.00004, -0.00005, -0.00005, -0.00005, -0.00005, -0.00005, -0.00005]
kD_1097_data = [0.0001, 0.00015, 0.0001, 0.00025, 0.0004, 0.0009, 0.0016, 0.0024, 0.0026, 0.0025, 0.0027, 0.0026, 0.0028, 0.0027, 0.0029, 0.0028, 0.0030, 0.0029, 0.0031, 0.0028, 0.0030, 0.0029, 0.0030, 0.0028, 0.0029, 0.0027, 0.0028, 0.0026, 0.0027, 0.0025, 0.0024, 0.0023, 0.0022, 0.0021, 0.0019, 0.0018, 0.0016, 0.0014, 0.0011, 0.0010, 0.0008, 0.0005, 0.0003, 0.0001, 0.00003, -0.00005, -0.0001, 0.0, -0.00008, 0.00002, -0.0001, -0.00005]

# ---------------- tick labels ----------------
A_yticks = [-0.010, -0.005, 0.0, 0.005, 0.010, 0.015, 0.020, 0.025]
A_ytext = ["-0.010", "-0.005", "0.000", "0.005", "0.010", "0.015", "0.020", "0.025"]
B_yticks = [0.0, 0.001, 0.002, 0.003, 0.004, 0.005, 0.006]
B_ytext = ["0.000", "0.001", "0.002", "0.003", "0.004", "0.005", "0.006"]
C_yticks = [-0.005, 0.0, 0.005, 0.010, 0.015, 0.020]
C_ytext = ["-0.005", "0.000", "0.005", "0.010", "0.015", "0.020"]
D_yticks = [0.0, 0.001, 0.002, 0.003]
D_ytext = ["0.000", "0.001", "0.002", "0.003"]
VIS_xticks = [450, 525, 600, 675, 750]
NIR_xticks = [900, 1050, 1200, 1350]
LOG_ticks = [0.1, 1, 10, 100, 1000, 10000]
LOG_text = ["10⁻¹", "10⁰", "10¹", "10²", "10³", "10⁴"]
iA_yticks = [-0.01, 0.0, 0.01, 0.02]
iA_ytext = ["-0.01", "0.00", "0.01", "0.02"]
iB_yticks = [0.0, 0.001, 0.002, 0.003, 0.004, 0.005]
iB_ytext = ["0.000", "0.001", "0.002", "0.003", "0.004", "0.005"]
iC_yticks = [-0.005, -0.0025, 0.0, 0.0025, 0.005, 0.0075, 0.010]
iC_ytext = ["-0.0050", "-0.0025", "0.0000", "0.0025", "0.0050", "0.0075", "0.0100"]
iD_yticks = [0.0, 0.001, 0.002, 0.003]
iD_ytext = ["0.000", "0.001", "0.002", "0.003"]

# ---------------- figure ----------------
fig = go.Figure()


def fx(p):
    return p / W


def fy(p):
    return 1 - p / H


def line(xs, ys, color, ax, smooth):
    fig.add_trace(go.Scatter(
        x=xs, y=ys, mode="lines", xaxis="x" + ax, yaxis="y" + ax, showlegend=False,
        line=dict(color=color, width=2.6, shape="spline" if smooth else "linear", smoothing=0.7),
        connectgaps=False, hoverinfo="skip"))


for xs, ys, c in [(A_green_wl, A_green, GREEN), (A_blue_wl, A_blue, BLUE), (A_red_wl, A_red, RED)]:
    line(xs, ys, c, "", True)
for xs, ys, c in [(B_gray_wl, B_gray, GRAY), (B_green_wl, B_green, GREEN), (B_blue_wl, B_blue, BLUE), (B_red_wl, B_red, RED)]:
    line(xs, ys, c, "3", False)
for xs, ys, c in [(C_gray_wl, C_gray, GRAY), (C_green_wl, C_green, GREEN), (C_blue_wl, C_blue, BLUE), (C_red_wl, C_red, RED)]:
    line(xs, ys, c, "5", True)
for xs, ys, c in [(D_gray_wl, D_gray, GRAY), (D_green_wl, D_green, GREEN), (D_blue_wl, D_blue, BLUE), (D_red_wl, D_red, RED)]:
    line(xs, ys, c, "7", False)


def kin(ax, leg, series):
    for name, data, fit, color in series:
        fig.add_trace(go.Scatter(
            x=TIME, y=data, mode="markers", name=name, xaxis="x" + ax, yaxis="y" + ax,
            legend=leg, marker=dict(symbol="square", size=6, color=color), hoverinfo="skip"))
    for name, data, fit, color in series:
        fig.add_trace(go.Scatter(
            x=TIME, y=fit, mode="lines", xaxis="x" + ax, yaxis="y" + ax, showlegend=False,
            line=dict(color="black", width=1.6, shape="spline", smoothing=0.6), hoverinfo="skip"))


kin("2", "legend", [("445 nm", kA_445, kA_445, MAG), ("519 nm", kA_519, kA_519, ORA), ("658 nm", kA_658, kA_658, CYA)])
kin("4", "legend2", [("862 nm", kB_862_data, kB_862_fit, MAG), ("966 nm", kB_966, kB_966, ORA), ("1080 nm", kB_1080_data, kB_1080_fit, CYA)])
kin("6", "legend3", [("433 nm", kC_433_data, kC_433_fit, MAG), ("527 nm", kC_527_data, kC_527_fit, ORA), ("699 nm", kC_699_data, kC_699_fit, CYA)])
kin("8", "legend4", [("862 nm", kD_862_data, kD_862_fit, MAG), ("966 nm", kD_966_data, kD_966_fit, ORA), ("1097 nm", kD_1097_data, kD_1097_fit, CYA)])

TF = dict(family=FONT, size=26, color="black")
ITF = dict(family=FONT, size=16, color="black")


def main_x(px0, px1, rng, ticks, minor):
    return dict(domain=[fx(px0), fx(px1)], range=rng, tickmode="array", tickvals=ticks,
                ticks="outside", ticklen=7, tickwidth=2, tickcolor="black",
                showline=True, linewidth=2, linecolor="black", showgrid=False, zeroline=False,
                tickfont=TF, automargin=False,
                minor=dict(ticks="outside", ticklen=4, tickwidth=1.5, tickcolor="black", dtick=minor, tick0=0, showgrid=False))


def main_y(py_top, py_bot, rng, ticks, text, minor, anchor):
    return dict(domain=[fy(py_bot), fy(py_top)], range=rng, tickmode="array", tickvals=ticks, ticktext=text,
                ticks="outside", ticklen=7, tickwidth=2, tickcolor="black",
                showline=True, linewidth=2, linecolor="black", showgrid=False,
                zeroline=True, zerolinecolor="black", zerolinewidth=1.5, anchor=anchor,
                tickfont=TF, automargin=False,
                minor=dict(ticks="outside", ticklen=4, tickwidth=1.5, tickcolor="black", dtick=minor, tick0=0, showgrid=False))


MINOR_LOG = [m * 10 ** e for e in range(-1, 4) for m in range(2, 10)]


def ins_x(px0, px1, rng, anchor):
    return dict(domain=[fx(px0), fx(px1)], type="log", range=rng, tickmode="array", tickvals=LOG_ticks, ticktext=LOG_text,
                ticks="outside", ticklen=5, tickwidth=1.3, tickcolor="black", anchor=anchor,
                showline=True, linewidth=1.5, linecolor="black", showgrid=False, zeroline=False,
                tickfont=ITF, automargin=False,
                minor=dict(ticks="outside", ticklen=3, tickwidth=1, tickcolor="black", tickmode="array", tickvals=MINOR_LOG, showgrid=False))


def ins_y(py_top, py_bot, rng, ticks, text, minor, anchor):
    return dict(domain=[fy(py_bot), fy(py_top)], range=rng, tickmode="array", tickvals=ticks, ticktext=text,
                ticks="outside", ticklen=5, tickwidth=1.3, tickcolor="black", anchor=anchor,
                showline=True, linewidth=1.5, linecolor="black", showgrid=False,
                zeroline=True, zerolinecolor="#444444", zerolinewidth=1.2,
                tickfont=ITF, automargin=False,
                minor=dict(ticks="outside", ticklen=3, tickwidth=1, tickcolor="black", dtick=minor, tick0=0, showgrid=False))


fig.update_layout(
    width=W, height=H, autosize=False,
    margin=dict(l=0, r=0, t=0, b=0, pad=0, autoexpand=False),
    paper_bgcolor="white", plot_bgcolor="rgba(0,0,0,0)",
    font=dict(family=FONT, color="black", size=16),
    xaxis=dict(main_x(136, 550.5, [429.3, 801.2], VIS_xticks, 37.5), anchor="y"),
    yaxis=main_y(84, 417, [-0.0124, 0.0252], A_yticks, A_ytext, 0.00125, "x"),
    xaxis2=ins_x(331, 521.7, [-1, 4.005], "y2"),
    yaxis2=ins_y(72.7, 227.7, [-0.0125, 0.025], iA_yticks, iA_ytext, 0.005, "x2"),
    xaxis3=dict(main_x(686, 1103, [838, 1402], NIR_xticks, 75), anchor="y3"),
    yaxis3=main_y(87, 420.7, [-0.000503, 0.006025], B_yticks, B_ytext, 0.0005, "x3"),
    xaxis4=ins_x(987, 1178, [-1, 4.01], "y4"),
    yaxis4=ins_y(86.7, 244.3, [-0.00047, 0.00512], iB_yticks, iB_ytext, 0.0005, "x4"),
    xaxis5=dict(main_x(124.5, 539.5, [420.2, 800.2], VIS_xticks, 37.5), anchor="y5"),
    yaxis5=main_y(600, 932.3, [-0.0075, 0.0226], C_yticks, C_ytext, 0.00125, "x5"),
    xaxis6=ins_x(348.3, 540, [-1, 4.04], "y6"),
    yaxis6=ins_y(585, 740.3, [-0.005, 0.010], iC_yticks, iC_ytext, 0.00125, "x6"),
    xaxis7=dict(main_x(686, 1103, [838, 1402], NIR_xticks, 75), anchor="y7"),
    yaxis7=main_y(596, 929.3, [-0.000501, 0.003007], D_yticks, D_ytext, 0.0005, "x7"),
    xaxis8=ins_x(999, 1190, [-1, 4.03], "y8"),
    yaxis8=ins_y(572.7, 728.3, [-0.00026, 0.00324], iD_yticks, iD_ytext, 0.0005, "x8"),
)

LEGF = dict(family=FONT, size=13.5, color="black")
for key, lx, ly in [("legend", 487, 53), ("legend2", 1065, 86), ("legend3", 463, 563), ("legend4", 1107, 558)]:
    fig.update_layout({key: dict(x=fx(lx), y=fy(ly), xanchor="left", yanchor="top", bgcolor="rgba(0,0,0,0)",
                                 font=LEGF, itemwidth=30, tracegroupgap=0, borderwidth=0)})

ann = []


def text(s, x, y, size, xanchor="center", angle=0):
    ann.append(dict(text=s, x=fx(x), y=fy(y), xref="paper", yref="paper", showarrow=False,
                    xanchor=xanchor, yanchor="middle", textangle=angle,
                    font=dict(family=FONT, size=size, color="black")))


text("A) <b><i>Trans</i>-Pt</b>, fsTA, VIS, 85 K", 28, 31, 31.5, "left")
text("B) <b><i>Trans</i>-Pt</b>, fsTA, NIR, 85 K", 604, 31, 31.5, "left")
text("C) <b><i>Cis</i>-Pt</b>, fsTA, VIS, 85 K", 28, 538, 31.5, "left")
text("D) <b><i>Cis</i>-Pt</b>, fsTA, NIR, 85 K", 624, 538, 31.5, "left")
for x, y in [(22, 242), (588, 242), (14, 755), (587, 755)]:
    text("EAS", x, y, 27, angle=-90)
for x, y in [(343, 481), (896, 483), (332, 995), (896, 992)]:
    text("Wavelength (nm)", x, y, 27)
for x, y in [(268, 150), (922, 163), (263, 650), (931, 647)]:
    text("ΔOD", x, y, 15, angle=-90)
for x, y in [(427, 270), (1083, 288), (445, 778), (1094, 770)]:
    text("Time (ps)", x, y, 16)
fig.update_layout(annotations=ann)

fig.write_html("out.html", post_script="document.body.style.margin='0';document.body.style.overflow='hidden';")
